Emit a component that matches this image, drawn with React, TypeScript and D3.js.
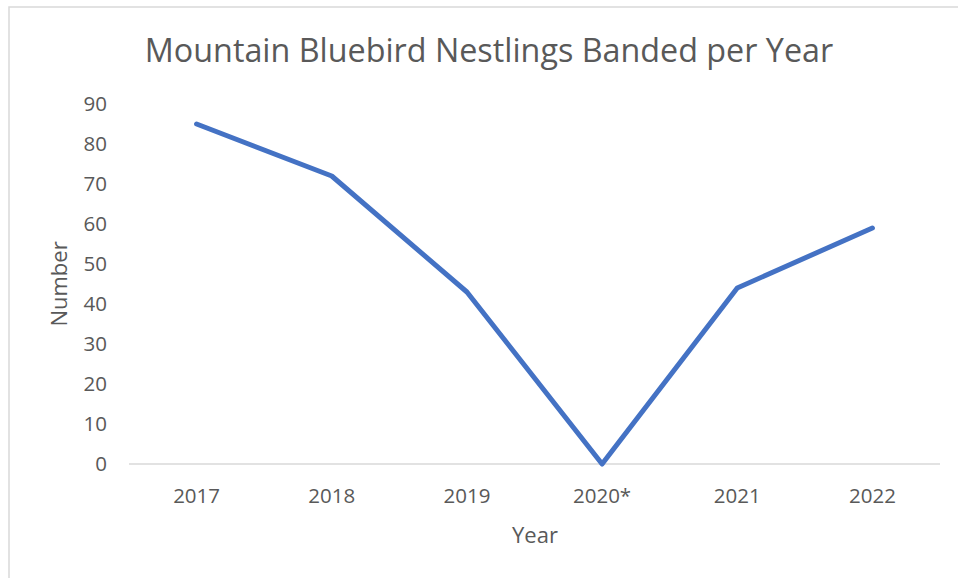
import React from 'react';
import * as d3 from 'd3';

const years = ['2017', '2018', '2019', '2020*', '2021', '2022'];
const banded = [85, 72, 43, 0, 44, 59];
const yTicks = [0, 10, 20, 30, 40, 50, 60, 70, 80, 90];

export default function App() {
  const W = 958;
  const H = 578;
  const margin = { top: 104, right: 18, bottom: 114, left: 129 };
  const innerW = W - margin.left - margin.right;
  const innerH = H - margin.top - margin.bottom;

  const x = d3.scaleBand<string>().domain(years).range([0, innerW]);
  const y = d3.scaleLinear().domain([0, 90]).range([innerH, 0]);

  const line = d3.line<number>()
    .x((_, i) => (x(years[i]) || 0) + x.bandwidth() / 2)
    .y(d => y(d));

  const font = "'Open Sans', sans-serif";

  return (
    <svg width={W} height={H} style={{ position: 'absolute', left: 0, top: 0 }} fontFamily={font}>
      <rect x={0} y={0} width={W} height={H} fill="#fff" />
      <rect x={9} y={7} width={W + 10} height={H + 10} fill="#fff" stroke="#d9d9d9" strokeWidth={1.5} />
      <text x={489} y={62} textAnchor="middle" fontSize={32.3} fill="#595959">
        Mountain Bluebird Nestlings Banded per Year
      </text>
      <g transform={`translate(${margin.left},${margin.top})`}>
        <line x1={0} x2={innerW} y1={y(0)} y2={y(0)} stroke="#d9d9d9" strokeWidth={1.5} />
        {yTicks.map(t => (
          <text key={t} x={-22} y={y(t)} dy="0.36em" textAnchor="end" fontSize={20.5} fill="#595959">
            {t}
          </text>
        ))}
        {years.map(yr => (
          <text key={yr} x={(x(yr) || 0) + x.bandwidth() / 2} y={innerH + 39} textAnchor="middle" fontSize={20.5} fill="#595959">
            {yr}
          </text>
        ))}
        <path d={line(banded) || ''} fill="none" stroke="#4472c4" strokeWidth={5} strokeLinejoin="round" strokeLinecap="round" />
      </g>
      <text x={535} y={543} textAnchor="middle" fontSize={22} fill="#595959">Year</text>
      <text transform="translate(67,284) rotate(-90)" textAnchor="middle" fontSize={22} fill="#595959">Number</text>
    </svg>
  );
}
